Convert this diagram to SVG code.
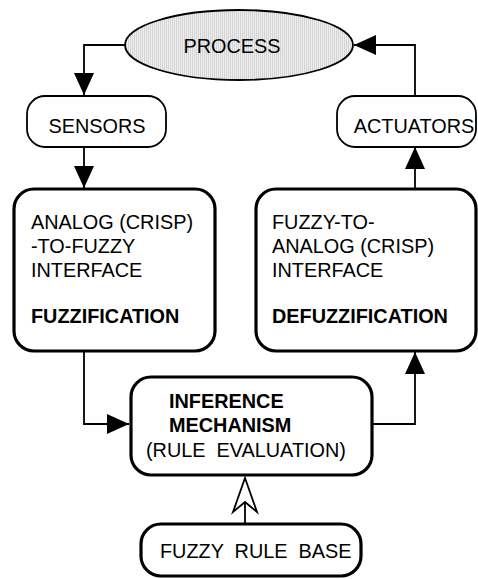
<svg xmlns="http://www.w3.org/2000/svg" width="478" height="579" viewBox="0 0 478 579">
  <style>
    .thin { fill: #fff; stroke: #000; stroke-width: 1.8; }
    .thick { fill: #fff; stroke: #000; stroke-width: 3.2; }
    .wire { fill: none; stroke: #000; stroke-width: 1.8; }
    text { font-family: "Liberation Sans", Arial, sans-serif; font-size: 21px; fill: #000; white-space: pre; }
    .b { font-weight: bold; }
  </style>
  <defs>
    <pattern id="stipple" width="2" height="2" patternUnits="userSpaceOnUse">
      <rect width="2" height="2" fill="#eeeeee"/>
      <rect width="1" height="2" fill="#d4d4d4"/>
    </pattern>
    <marker id="solid" viewBox="0 0 22 20" refX="22" refY="10" markerWidth="22" markerHeight="20" markerUnits="userSpaceOnUse" orient="auto">
      <path d="M0,0 L22,10 L0,20 Z" fill="#000"/>
    </marker>
  </defs>

  <!-- connectors -->
  <g id="connectors">
    <path class="wire" d="M125,45 H84 V95" marker-end="url(#solid)"/>
    <path class="wire" d="M84,147 V188" marker-end="url(#solid)"/>
    <path class="wire" d="M84,351 V424 H129" marker-end="url(#solid)"/>
    <path class="wire" d="M372,424 H415 V352" marker-end="url(#solid)"/>
    <path class="wire" d="M415,188 V147" marker-end="url(#solid)"/>
    <path class="wire" d="M415,96 V45 H354" marker-end="url(#solid)"/>
    <!-- open arrow from the rule base into the inference engine -->
    <path class="wire" d="M245,523 V503"/>
    <path d="M245,478 L257,512 L245,502 L233,512 Z" fill="#fff" stroke="#000" stroke-width="1.8" stroke-linejoin="miter"/>
  </g>

  <!-- labels are set slightly condensed (0.945 horizontal scale) -->
  <g id="process">
    <ellipse cx="239" cy="45" rx="114" ry="35" fill="url(#stipple)" stroke="#000" stroke-width="1.8"/>
    <text transform="translate(232,53) scale(0.945,1)" text-anchor="middle">PROCESS</text>
  </g>

  <g id="sensors">
    <rect class="thin" x="27" y="96" width="139" height="51" rx="18"/>
    <text transform="translate(97,133) scale(0.945,1)" text-anchor="middle">SENSORS</text>
  </g>

  <g id="actuators">
    <rect class="thin" x="337" y="96" width="139" height="51" rx="18"/>
    <text transform="translate(414,133) scale(0.945,1)" text-anchor="middle">ACTUATORS</text>
  </g>

  <g id="fuzzification">
    <rect class="thick" x="14" y="189" width="201" height="162" rx="20"/>
    <text transform="translate(31,229) scale(0.945,1)">ANALOG (CRISP)</text>
    <text transform="translate(31,253) scale(0.945,1)">-TO-FUZZY</text>
    <text transform="translate(31,277) scale(0.945,1)">INTERFACE</text>
    <text class="b" transform="translate(31,323) scale(0.945,1)">FUZZIFICATION</text>
  </g>

  <g id="defuzzification">
    <rect class="thick" x="256" y="189" width="220" height="162" rx="20"/>
    <text transform="translate(272,229) scale(0.945,1)">FUZZY-TO-</text>
    <text transform="translate(272,253) scale(0.945,1)">ANALOG (CRISP)</text>
    <text transform="translate(272,277) scale(0.945,1)">INTERFACE</text>
    <text class="b" transform="translate(272,323) scale(0.945,1)">DEFUZZIFICATION</text>
  </g>

  <g id="inference">
    <rect class="thick" x="131" y="377" width="241" height="98" rx="20"/>
    <text class="b" transform="translate(169,408) scale(0.945,1)">INFERENCE</text>
    <text class="b" transform="translate(169,432) scale(0.945,1)">MECHANISM</text>
    <text transform="translate(146,457) scale(0.945,1)">(RULE  EVALUATION)</text>
  </g>

  <g id="rule-base">
    <rect class="thick" x="141" y="524" width="220" height="52" rx="20"/>
    <text transform="translate(160,558) scale(0.945,1)">FUZZY  RULE  BASE</text>
  </g>
</svg>
